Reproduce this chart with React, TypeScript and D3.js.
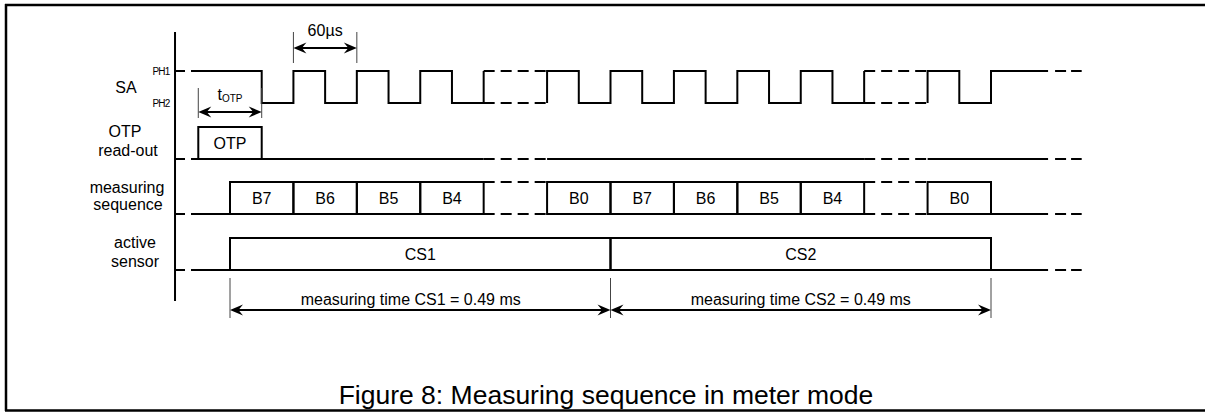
import React from "react"
import * as d3 from "d3"

// time axis is in "slots" (one bit slot = 60us), B3..B1 are folded into one dashed slot
const slotLabels = ["B7", "B6", "B5", "B4", "", "B0", "B7", "B6", "B5", "B4", "", "B0"]
const gapSlots = [4, 10]
const sensors = [
  { name: "CS1", from: 0, to: 6, label: "measuring time CS1 = 0.49 ms", labelAt: 2.85 },
  { name: "CS2", from: 6, to: 12, label: "measuring time CS2 = 0.49 ms", labelAt: 9 },
]
const otpWindow = [-0.5, 0.5]
const periodMarks = [1, 2]
const periodLabel = "60µs"
const saRuns = [
  { from: -0.615, to: 4, high: true, edges: [0.5, 1, 1.5, 2, 2.5, 3, 3.5, 4] },
  { from: 5, to: 10, high: false, edges: [5, 5.5, 6, 6.5, 7, 7.5, 8, 8.5, 9, 9.5, 10] },
  { from: 11, to: 12.9, high: false, edges: [11, 11.5, 12] },
]
const solidRuns = [[-0.615, 4], [5, 10], [11, 12.9]]
const axisAt = -0.867
const leadDash = [-0.867, -0.71]
const tail = [12.9, 13.43]

const W = 1205,
  H = 412
const font = "'Liberation Sans', Arial, sans-serif"

function Arrowhead({ x, y, dir }: { x: number; y: number; dir: number }) {
  const p = d3.path()
  p.moveTo(x, y)
  p.lineTo(x - dir * 13, y - 5.5)
  p.lineTo(x - dir * 8.5, y)
  p.lineTo(x - dir * 13, y + 5.5)
  p.closePath()
  return <path d={p.toString()} fill="#000" />
}

function DimArrow({ x0, x1, y }: { x0: number; x1: number; y: number }) {
  return (
    <g>
      <line x1={x0 + 4} x2={x1 - 4} y1={y} y2={y} stroke="#000" strokeWidth={2} />
      <Arrowhead x={x0} y={y} dir={-1} />
      <Arrowhead x={x1} y={y} dir={1} />
    </g>
  )
}

export default function App() {
  const x = d3.scaleLinear().domain([0, 12]).range([230, 991])
  const rows = {
    saHi: 71,
    saLo: 103,
    otpTop: 127,
    otpBase: 159,
    seqTop: 182,
    seqBase: 214,
    actTop: 238,
    actBase: 270,
  }
  const sw = 2
  const dash = "11,6"

  const saLine = d3
    .line<[number, boolean]>()
    .x(d => x(d[0]))
    .y(d => (d[1] ? rows.saHi : rows.saLo))
    .curve(d3.curveStepAfter)

  const saPaths = saRuns.map(r => {
    let lvl = r.high
    const pts: [number, boolean][] = [[r.from, lvl]]
    r.edges.forEach(e => {
      lvl = !lvl
      pts.push([e, lvl])
    })
    if (r.to > r.edges[r.edges.length - 1]) pts.push([r.to, lvl])
    return saLine(pts) as string
  })

  // a row baseline: short lead dash, solid runs, dashed gaps, dashed tail
  const baseline = (y: number, withGaps: boolean, key: string) => (
    <g key={key}>
      <line x1={x(leadDash[0])} x2={x(leadDash[1])} y1={y} y2={y} stroke="#000" strokeWidth={sw} />
      {withGaps ? (
        <>
          {solidRuns.map((r, i) => (
            <line key={i} x1={x(r[0])} x2={x(r[1])} y1={y} y2={y} stroke="#000" strokeWidth={sw} />
          ))}
          {gapSlots.map(g => (
            <line key={"g" + g} x1={x(g)} x2={x(g + 1)} y1={y} y2={y} stroke="#000" strokeWidth={sw} strokeDasharray={dash} />
          ))}
        </>
      ) : (
        <line x1={x(solidRuns[0][0])} x2={x(tail[0])} y1={y} y2={y} stroke="#000" strokeWidth={sw} />
      )}
      <line x1={x(tail[0]) + 7} x2={x(tail[1])} y1={y} y2={y} stroke="#000" strokeWidth={sw} strokeDasharray="11,5" />
    </g>
  )

  const labelStyle = { fontFamily: font, fontSize: 16, fill: "#000" }

  return (
    <div style={{ position: "absolute", left: 0, top: 0 }}>
      <svg width={W} height={H} style={{ display: "block", background: "#fff" }}>
        {/* frame */}
        <line x1={5} x2={W} y1={5} y2={5} stroke="#000" strokeWidth={2.5} />
        <line x1={6} x2={6} y1={4} y2={411} stroke="#000" strokeWidth={2.5} />
        <line x1={5} x2={W} y1={410.5} y2={410.5} stroke="#000" strokeWidth={2.5} />

        {/* time axis */}
        <line x1={x(axisAt)} x2={x(axisAt)} y1={32} y2={301} stroke="#000" strokeWidth={2} />

        {/* row labels */}
        <text x={126} y={93} textAnchor="middle" style={labelStyle}>SA</text>
        <text x={161} y={75} textAnchor="middle" style={{ ...labelStyle, fontSize: 10, letterSpacing: -0.8 }}>PH1</text>
        <text x={161} y={107} textAnchor="middle" style={{ ...labelStyle, fontSize: 10, letterSpacing: -0.8 }}>PH2</text>
        <text x={125} y={137} textAnchor="middle" style={labelStyle}>OTP</text>
        <text x={128} y={156} textAnchor="middle" style={labelStyle}>read-out</text>
        <text x={127} y={193} textAnchor="middle" style={labelStyle}>measuring</text>
        <text x={128} y={210} textAnchor="middle" style={labelStyle}>sequence</text>
        <text x={135} y={248} textAnchor="middle" style={labelStyle}>active</text>
        <text x={135} y={267} textAnchor="middle" style={labelStyle}>sensor</text>

        {/* SA clock */}
        <line x1={x(leadDash[0])} x2={x(leadDash[1])} y1={rows.saHi} y2={rows.saHi} stroke="#000" strokeWidth={sw} />
        {saPaths.map((d, i) => (
          <path key={i} d={d} fill="none" stroke="#000" strokeWidth={sw} />
        ))}
        {gapSlots.map(g => (
          <g key={"sa" + g}>
            <line x1={x(g)} x2={x(g + 1)} y1={rows.saHi} y2={rows.saHi} stroke="#000" strokeWidth={sw} strokeDasharray={dash} />
            <line x1={x(g)} x2={x(g + 1)} y1={rows.saLo} y2={rows.saLo} stroke="#000" strokeWidth={sw} strokeDasharray={dash} />
          </g>
        ))}
        <line x1={x(tail[0]) + 7} x2={x(tail[1])} y1={rows.saHi} y2={rows.saHi} stroke="#000" strokeWidth={sw} strokeDasharray="11,5" />

        {/* 60us period marker */}
        {periodMarks.map(p => (
          <line key={p} x1={x(p)} x2={x(p)} y1={32} y2={63} stroke="#444" strokeWidth={1} />
        ))}
        <DimArrow x0={x(periodMarks[0])} x1={x(periodMarks[1])} y={48} />
        <text x={(x(periodMarks[0]) + x(periodMarks[1])) / 2} y={36} textAnchor="middle" style={labelStyle}>
          {periodLabel}
        </text>

        {/* tOTP marker */}
        {otpWindow.map(p => (
          <line key={p} x1={x(p)} x2={x(p)} y1={88} y2={118} stroke="#444" strokeWidth={1} />
        ))}
        <DimArrow x0={x(otpWindow[0])} x1={x(otpWindow[1])} y={112} />
        <text x={(x(otpWindow[0]) + x(otpWindow[1])) / 2} y={100} textAnchor="middle" style={labelStyle}>
          t<tspan fontSize={10} dy={2}>OTP</tspan>
        </text>

        {/* OTP read-out */}
        {baseline(rows.otpBase, true, "otp")}
        <rect
          x={x(otpWindow[0])}
          y={rows.otpTop}
          width={x(otpWindow[1]) - x(otpWindow[0])}
          height={rows.otpBase - rows.otpTop}
          fill="none"
          stroke="#000"
          strokeWidth={sw}
        />
        <text x={(x(otpWindow[0]) + x(otpWindow[1])) / 2} y={148.5} textAnchor="middle" style={labelStyle}>OTP</text>

        {/* measuring sequence */}
        {baseline(rows.seqBase, true, "seq")}
        {slotLabels.map((lab, i) =>
          gapSlots.includes(i) ? (
            <line key={i} x1={x(i)} x2={x(i + 1)} y1={rows.seqTop} y2={rows.seqTop} stroke="#000" strokeWidth={sw} strokeDasharray={dash} />
          ) : (
            <g key={i}>
              <rect x={x(i)} y={rows.seqTop} width={x(i + 1) - x(i)} height={rows.seqBase - rows.seqTop} fill="none" stroke="#000" strokeWidth={sw} />
              <text x={(x(i) + x(i + 1)) / 2} y={203.8} textAnchor="middle" style={labelStyle}>{lab}</text>
            </g>
          )
        )}

        {/* active sensor */}
        {baseline(rows.actBase, false, "act")}
        {sensors.map(s => (
          <g key={s.name}>
            <rect x={x(s.from)} y={rows.actTop} width={x(s.to) - x(s.from)} height={rows.actBase - rows.actTop} fill="none" stroke="#000" strokeWidth={sw} />
            <text x={(x(s.from) + x(s.to)) / 2} y={259.7} textAnchor="middle" style={labelStyle}>{s.name}</text>
          </g>
        ))}

        {/* measuring time */}
        {[0, 6, 12].map(p => (
          <line key={p} x1={x(p)} x2={x(p)} y1={278} y2={318} stroke="#444" strokeWidth={1} />
        ))}
        {sensors.map(s => (
          <g key={"m" + s.name}>
            <DimArrow x0={x(s.from)} x1={x(s.to)} y={310} />
            <text x={x(s.labelAt)} y={305} textAnchor="middle" style={labelStyle}>{s.label}</text>
          </g>
        ))}

        {/* caption */}
        <text x={606} y={404} textAnchor="middle" style={{ ...labelStyle, fontSize: 26.5 }}>
          Figure 8: Measuring sequence in meter mode
        </text>
      </svg>
    </div>
  )
}
